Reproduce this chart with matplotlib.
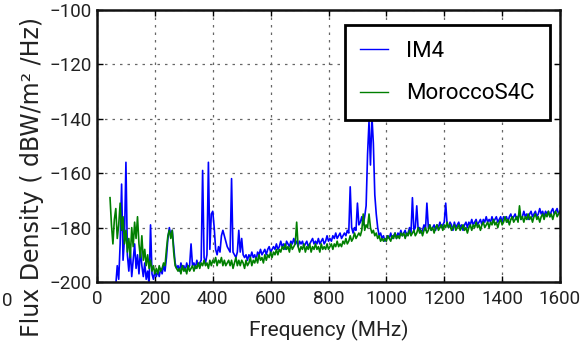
import numpy as np
import matplotlib
matplotlib.use("Agg")
import matplotlib.pyplot as plt

plt.rcParams["font.family"] = ["Roboto", "DejaVu Sans"]

# IM4 spectrum, 60-1600 MHz in 5 MHz steps (dBW/m^2/Hz)
im4_start, im4_step = 60, 5
im4_flux = [
    -203, -201, -194, -199, -186, -164, -192, -184, -156, -190,
    -196, -188, -198, -192, -186, -195, -190, -197, -188, -194,
    -198, -193, -199, -196, -201, -179, -197, -199, -196, -198,
    -196, -198, -195, -197, -194, -196, -191, -184, -180, -183,
    -181, -187, -193, -195, -194, -196, -193, -195, -194, -196,
    -193, -195, -194, -186, -194, -193, -195, -192, -194, -193,
    -192, -159, -191, -193, -190, -156, -188, -175, -174, -180,
    -188, -190, -187, -189, -183, -181, -183, -185, -187, -188,
    -189, -162, -189, -190, -191, -189, -181, -189, -184, -190,
    -191, -190, -192, -190, -191, -189, -191, -190, -192, -189,
    -190, -188, -190, -189, -188, -190, -188, -187, -189, -188,
    -187, -188, -186, -188, -187, -185, -187, -186, -188, -185,
    -186, -187, -185, -186, -184, -186, -185, -187, -185, -186,
    -185, -187, -186, -185, -187, -186, -185, -184, -186, -185,
    -186, -184, -186, -185, -184, -186, -185, -183, -185, -184,
    -185, -183, -184, -182, -184, -183, -182, -184, -183, -182,
    -183, -181, -182, -165, -180, -182, -180, -181, -171, -179,
    -178, -176, -179, -176, -172, -153, -141, -157, -139, -149,
    -168, -175, -180, -183, -182, -184, -183, -185, -184, -183,
    -184, -182, -184, -183, -182, -184, -182, -183, -181, -183,
    -182, -181, -183, -182, -180, -182, -169, -181, -180, -172,
    -181, -180, -182, -181, -179, -181, -171, -180, -179, -181,
    -180, -179, -181, -179, -180, -178, -180, -179, -178, -171,
    -179, -180, -178, -179, -181, -178, -180, -179, -178, -180,
    -179, -181, -179, -178, -180, -178, -179, -177, -179, -178,
    -177, -179, -178, -177, -179, -177, -178, -176, -178, -177,
    -178, -176, -178, -177, -176, -178, -177, -176, -178, -176,
    -177, -176, -178, -176, -175, -177, -176, -175, -177, -176,
    -175, -177, -176, -174, -176, -175, -177, -175, -174, -176,
    -175, -174, -176, -175, -173, -175, -174, -176, -174, -175,
    -174, -176, -174, -173, -175, -174, -173, -175, -174,
]

# MoroccoS4C spectrum, 45-1600 MHz in 5 MHz steps (dBW/m^2/Hz)
mor_start, mor_step = 45, 5
mor_flux = [
    -169, -179, -186, -177, -173, -184, -179, -171, -181, -176,
    -186, -181, -189, -184, -191, -180, -187, -178, -184, -176,
    -186, -191, -183, -192, -188, -194, -190, -195, -192, -196,
    -194, -197, -195, -197, -194, -196, -195, -193, -194, -188,
    -183, -181, -184, -181, -189, -194, -195, -196, -195, -197,
    -194, -196, -195, -197, -194, -196, -195, -194, -196, -194,
    -195, -193, -195, -193, -194, -192, -194, -193, -195, -192,
    -194, -192, -193, -191, -194, -192, -193, -191, -194, -192,
    -194, -193, -192, -194, -192, -195, -193, -191, -194, -192,
    -194, -192, -193, -195, -192, -194, -193, -191, -194, -192,
    -193, -191, -193, -190, -192, -191, -193, -190, -192, -190,
    -191, -189, -191, -189, -190, -188, -190, -188, -189, -187,
    -188, -186, -188, -187, -189, -186, -188, -187, -186, -178,
    -187, -189, -187, -188, -186, -189, -187, -188, -186, -189,
    -187, -188, -186, -188, -187, -189, -186, -188, -187, -188,
    -186, -188, -187, -186, -188, -186, -187, -185, -187, -186,
    -187, -185, -186, -184, -186, -185, -183, -185, -184, -182,
    -184, -183, -182, -183, -181, -175, -181, -179, -180, -175,
    -180, -182, -181, -183, -182, -184, -183, -185, -184, -185,
    -184, -185, -183, -184, -185, -183, -184, -182, -184, -183,
    -184, -182, -183, -182, -184, -182, -183, -181, -183, -182,
    -181, -183, -182, -180, -182, -181, -183, -181, -180, -182,
    -181, -179, -181, -180, -182, -180, -179, -181, -180, -179,
    -181, -179, -180, -178, -180, -179, -181, -180, -179, -181,
    -180, -179, -181, -180, -179, -181, -180, -182, -180, -179,
    -181, -179, -180, -178, -180, -179, -181, -179, -178, -180,
    -179, -178, -180, -178, -179, -177, -179, -178, -180, -178,
    -177, -179, -178, -176, -178, -177, -179, -177, -176, -178,
    -177, -176, -178, -172, -177, -176, -178, -176, -177, -175,
    -177, -176, -178, -176, -175, -177, -176, -178, -176, -175,
    -177, -175, -176, -174, -176, -175, -177, -175, -174, -176,
    -175, -174,
]

series_names = ["IM4", "MoroccoS4C"]
series_colors = ["#0000ff", "#007f00"]
x_ticks = [0, 200, 400, 600, 800, 1000, 1200, 1400, 1600]
y_ticks = [-200, -180, -160, -140, -120, -100]

im4_freq = im4_start + im4_step * np.arange(len(im4_flux))
mor_freq = mor_start + mor_step * np.arange(len(mor_flux))

W, H = 587, 347
fig = plt.figure(figsize=(W / 100, H / 100), dpi=100)
ax = fig.add_axes([97 / W, 65 / H, 463 / W, 272 / H])

ax.plot(im4_freq, im4_flux, color=series_colors[0], lw=1.2, label=series_names[0])
ax.plot(mor_freq, mor_flux, color=series_colors[1], lw=1.2, label=series_names[1])

ax.set_xlim(0, 1600)
ax.set_ylim(-200, -100)
ax.set_xticks(x_ticks)
ax.set_yticks(y_ticks)
ax.tick_params(direction="in", length=4, width=1, top=True, right=True,
               labelsize=13.5, labelcolor="#222222")
ax.tick_params(axis="x", pad=6)
ax.tick_params(axis="y", pad=4)
ax.grid(True, color="#666666", linestyle=(0, (2, 4)), lw=0.9)
for sp in ax.spines.values():
    sp.set_linewidth(1.8)
    sp.set_color("#111111")

ax.set_xlabel("Frequency (MHz)", fontsize=15, color="#222222", labelpad=8)
fig.text(32 / W, (H - 337) / H, "Flux Density ( dBW/m² /Hz)", rotation=90,
         ha="center", va="bottom", fontsize=17, color="#222222",
         family=["DejaVu Sans"])
fig.text(7 / W, (H - 301) / H, "0", ha="center", va="center",
         fontsize=13.5, color="#222222")

leg = ax.legend(loc="upper right", bbox_to_anchor=(550 / W, (H - 25) / H),
                bbox_transform=fig.transFigure, borderaxespad=0, fontsize=16,
                handlelength=1.26, handletextpad=0.8, borderpad=0.7,
                labelspacing=0.98, fancybox=False, framealpha=1)
leg.get_frame().set_edgecolor("black")
leg.get_frame().set_linewidth(2)
for h in leg.get_lines():
    h.set_linewidth(1.0)

fig.savefig("out.png", dpi=100)
